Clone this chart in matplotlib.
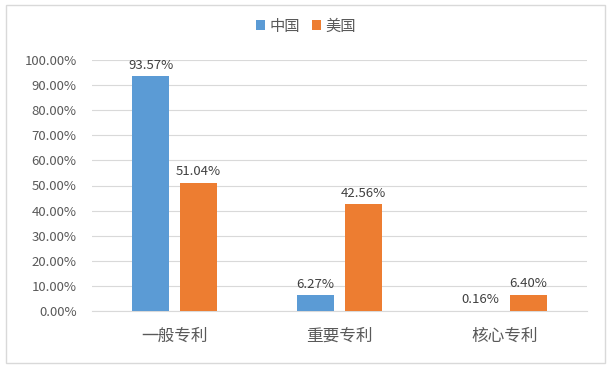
import matplotlib.pyplot as plt
import numpy as np
from matplotlib.patches import Rectangle

plt.rcParams['font.family'] = ['Noto Sans CJK SC', 'DejaVu Sans']

categories = ["一般专利", "重要专利", "核心专利"]
china = [93.57, 6.27, 0.16]
usa = [51.04, 42.56, 6.40]
series_names = ["中国", "美国"]
colors = ["#5B9BD5", "#ED7D31"]
text_color = "#595959"

fig = plt.figure(figsize=(6.12, 3.67), dpi=100)
fig.patches.append(Rectangle((6 / 612, 4 / 367), 599 / 612, 358 / 367, transform=fig.transFigure,
                             fill=False, edgecolor="#D9D9D9", linewidth=1))
ax = fig.add_axes([92 / 612, 1 - 311 / 367, 495 / 612, 251 / 367])

x = np.arange(len(categories))
width = 0.225
offset = 0.144
for vals, name, color, dx in zip([china, usa], series_names, colors, [-offset, offset]):
    bars = ax.bar(x + dx, vals, width, color=color, label=name, zorder=3)
    for b, v in zip(bars, vals):
        ax.text(b.get_x() + b.get_width() / 2, v + 1.8, f"{v:.2f}%", ha="center", va="bottom",
                fontsize=9.5, color="#404040")

ax.set_xlim(-0.5, 2.5)
ax.set_ylim(0, 100)
ax.set_yticks(np.arange(0, 101, 10))
ax.set_yticklabels([f"{t:.2f}%" for t in np.arange(0, 101, 10)])
ax.set_xticks(x)
ax.set_xticklabels(categories, fontsize=12)
ax.tick_params(axis="y", length=0, labelsize=9.5, colors=text_color, pad=11)
ax.tick_params(axis="x", length=0, colors=text_color, pad=12)
ax.grid(axis="y", color="#D9D9D9", linewidth=0.8, zorder=0)
for s in ["top", "right", "left"]:
    ax.spines[s].set_visible(False)
ax.spines["bottom"].set_color("#D9D9D9")

fig.legend(loc="center", bbox_to_anchor=(0.5, 1 - 26 / 367), ncol=2, frameon=False,
           fontsize=11, handlelength=0.55, handleheight=0.55, handletextpad=0.3, columnspacing=0.8,
           labelcolor=text_color)

fig.savefig("out.png", dpi=100)
